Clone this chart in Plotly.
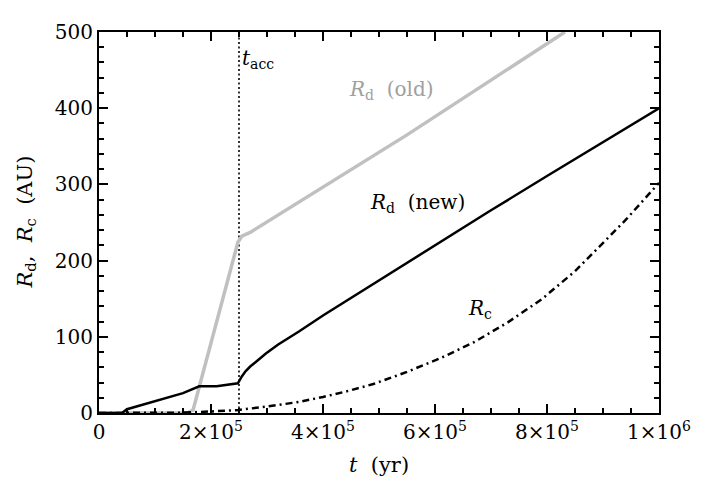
import plotly.graph_objects as go

# R_d (old) - gray
t_old = [0, 1.58e5, 1.68e5, 2.05e5, 2.48e5, 2.55e5, 2.7e5, 5.5e5, 8.32e5]
r_old = [0, 0, 4, 106, 224, 232, 237, 365, 500]

# R_d (new) - black
t_new = [0, 4.1e4, 5.0e4, 1.0e5, 1.5e5, 1.79e5, 2.1e5, 2.48e5, 2.55e5, 2.62e5, 2.7e5, 2.8e5,
         2.98e5, 3.2e5, 3.57e5, 4.0e5, 5.0e5, 6.0e5, 7.0e5, 8.0e5, 9.0e5, 1.0e6]
r_new = [0, 0, 5, 15, 26, 35, 35, 39, 48, 55, 61, 67,
         78, 90, 107, 128, 174, 221, 266, 311, 356, 400]

# R_c - dash-dot
t_c = [0, 1.0e5, 1.5e5, 2.0e5, 2.5e5, 3.0e5, 3.57e5, 4.0e5, 4.4e5, 4.9e5, 5.5e5, 6.1e5,
       6.7e5, 7.3e5, 7.9e5, 8.5e5, 8.8e5, 9.4e5, 1.0e6]
r_c = [0, 0, 0.5, 2, 4, 8.5, 14.5, 21, 28, 38, 54, 72,
       93, 119, 149, 186, 208, 253, 302]

t_acc = 2.5e5

x_range = [0, 1e6]
y_range = [0, 500]
x_tickvals = [0, 2e5, 4e5, 6e5, 8e5, 1e6]
x_ticktext = ["0", "2×10<sup>5</sup>", "4×10<sup>5</sup>", "6×10<sup>5</sup>",
              "8×10<sup>5</sup>", "1×10<sup>6</sup>"]
y_tickvals = [0, 100, 200, 300, 400, 500]

FONT = "DejaVu Serif"

fig = go.Figure()
fig.add_trace(go.Scatter(x=[t_acc, t_acc], y=[0, 500], mode="lines",
                         line=dict(color="black", width=1.6, dash="2px,2.5px"),
                         showlegend=False, hoverinfo="skip"))
fig.add_trace(go.Scatter(x=t_old, y=r_old, mode="lines",
                         line=dict(color="#c0c0c0", width=3.5), showlegend=False))
fig.add_trace(go.Scatter(x=t_new, y=r_new, mode="lines",
                         line=dict(color="black", width=2.5), showlegend=False))
fig.add_trace(go.Scatter(x=t_c, y=r_c, mode="lines",
                         line=dict(color="black", width=2.5, dash="7px,4px,2px,4px"),
                         showlegend=False))
# invisible trace to hold the mirrored tick axes
fig.add_trace(go.Scatter(x=[None], y=[None], xaxis="x2", yaxis="y2", mode="lines",
                         showlegend=False, hoverinfo="skip"))

tick_common = dict(ticks="inside", tickwidth=2, tickcolor="black", showgrid=False,
                   zeroline=False, ticklen=9)

fig.update_layout(
    xaxis=dict(range=x_range, tickvals=x_tickvals, ticktext=x_ticktext,
               showline=True, linecolor="black", linewidth=2, mirror=True,
               tickfont=dict(family=FONT, size=20, color="black"),
               minor=dict(ticks="inside", ticklen=5, dtick=5e4, tickwidth=2,
                          tickcolor="black", showgrid=False),
               **tick_common),
    yaxis=dict(range=y_range, tickvals=y_tickvals,
               showline=True, linecolor="black", linewidth=2, mirror=True,
               tickfont=dict(family=FONT, size=20, color="black"),
               minor=dict(ticks="inside", ticklen=5, dtick=20, tickwidth=2,
                          tickcolor="black", showgrid=False),
               **tick_common),
    xaxis2=dict(range=x_range, overlaying="x", side="top", tickvals=x_tickvals,
                showticklabels=False,
                minor=dict(ticks="inside", ticklen=5, dtick=5e4, tickwidth=2,
                           tickcolor="black", showgrid=False),
                **tick_common),
    yaxis2=dict(range=y_range, overlaying="y", side="right", tickvals=y_tickvals,
                showticklabels=False,
                minor=dict(ticks="inside", ticklen=5, dtick=20, tickwidth=2,
                           tickcolor="black", showgrid=False),
                **tick_common),
)

ann_font = dict(family=FONT, size=20, color="black")
fig.add_annotation(x=t_acc, y=464, text="<i>t</i><sub>acc</sub>", showarrow=False,
                   xanchor="left", xshift=1, font=ann_font)
fig.add_annotation(x=5.23e5, y=424, text="<i>R</i><sub>d</sub>  (old)", showarrow=False,
                   font=dict(family=FONT, size=20, color="#a0a0a0"))
fig.add_annotation(x=5.68e5, y=275, text="<i>R</i><sub>d</sub>  (new)", showarrow=False,
                   font=ann_font)
fig.add_annotation(x=6.8e5, y=136, text="<i>R</i><sub>c</sub>", showarrow=False,
                   font=ann_font)

# axis titles
fig.add_annotation(xref="paper", yref="paper", x=0.5, y=0, yshift=-52,
                   xanchor="center", yanchor="middle",
                   text="<i>t</i>  (yr)", showarrow=False,
                   font=dict(family=FONT, size=21, color="black"))
fig.add_annotation(xref="paper", yref="paper", x=0, y=0.5, xshift=-74,
                   xanchor="center", yanchor="middle",
                   text="<i>R</i><sub>d</sub>,  <i>R</i><sub>c</sub>  (AU)", textangle=-90,
                   showarrow=False, font=dict(family=FONT, size=21, color="black"))

fig.update_layout(width=709, height=499, plot_bgcolor="white", paper_bgcolor="white",
                  margin=dict(l=91, r=58, t=15, b=94), showlegend=False)

fig.write_html("out.html")
